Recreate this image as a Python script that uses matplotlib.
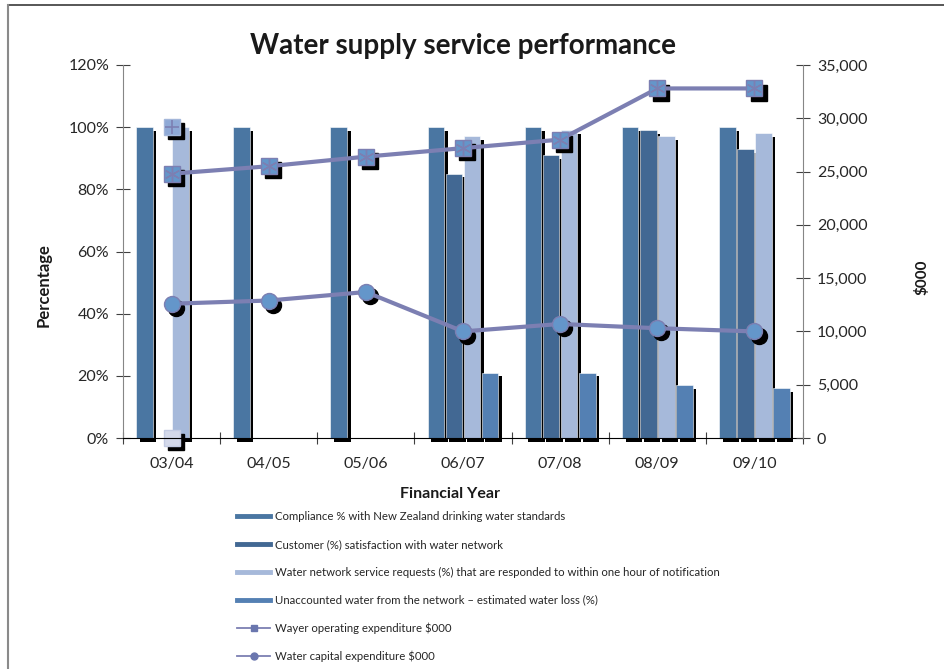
import numpy as np
import matplotlib
matplotlib.use("Agg")
import matplotlib.pyplot as plt
from matplotlib.lines import Line2D
from matplotlib.transforms import ScaledTranslation

plt.rcParams['font.family'] = ['Lato', 'DejaVu Sans']

# ---------------- data ----------------
years = ["03/04", "04/05", "05/06", "06/07", "07/08", "08/09", "09/10"]
compliance = [100, 100, 100, 100, 100, 100, 100]
customer = [np.nan, np.nan, np.nan, 85, 91, 99, 93]
service_requests = [100, np.nan, np.nan, 97, 99, 97, 98]
unaccounted = [np.nan, np.nan, np.nan, 21, 21, 17, 16]
operating_exp = [24800, 25500, 26400, 27200, 28000, 32800, 32800]
capital_exp = [12600, 12900, 13700, 10000, 10700, 10300, 10000]
stray_points = [100, 0]          # odd extra markers at 03/04 (percent axis)

bar_labels = ["Compliance % with New Zealand drinking water standards",
              "Customer (%) satisfaction with water network",
              "Water network service requests (%) that are responded to within one hour of notification",
              "Unaccounted water from the network \u2013 estimated water loss (%)"]
line_labels = ["Wayer operating expenditure $000", "Water capital expenditure $000"]

bar_colors = ["#4A76A2", "#426893", "#A6B9DA", "#5480B3"]
line_color = "#7C7FB2"
marker_fill = "#6496CA"

# ---------------- figure ----------------
fig = plt.figure(figsize=(9.44, 6.69), dpi=100)
ax = fig.add_axes([123/944, 1-438/669, (803-123)/944, (438-65)/669])
ax2 = ax.twinx()

x = np.arange(len(years))
bw = 0.17
step = 0.186
shadow = ScaledTranslation(2.6/72, -2.6/72, fig.dpi_scale_trans)
mshadow = ScaledTranslation(3/72, -3/72, fig.dpi_scale_trans)

series = [compliance, customer, service_requests, unaccounted]
for i, (vals, col) in enumerate(zip(series, bar_colors)):
    xi = x + (i - 1.5) * step
    ax.bar(xi, vals, width=bw, color="black", transform=ax.transData + shadow,
           zorder=1, clip_on=False)
    ax.bar(xi, vals, width=bw, color=col, edgecolor="white", linewidth=0.4,
           zorder=2, clip_on=False)

# stray markers
ax.plot([x[0]], [stray_points[0]], ls="none", marker="s", ms=11, color="black",
        transform=ax.transData + mshadow, zorder=3, clip_on=False)
ax.plot([x[0]], [stray_points[0]], ls="none", marker="s", ms=11, mfc="#8EA9D6",
        mec="#A4B7DA", zorder=4, clip_on=False)
ax.plot([x[0]], [stray_points[0]], ls="none", marker="+", ms=10, mew=1.2,
        color=line_color, zorder=5, clip_on=False)
ax.plot([x[0]], [stray_points[1]], ls="none", marker="s", ms=11, color="black",
        transform=ax.transData + mshadow, zorder=3, clip_on=False)
ax.plot([x[0]], [stray_points[1]], ls="none", marker="s", ms=11, mfc="#D4D9EA",
        mec="#C3CBE3", zorder=4, clip_on=False)

# lines on secondary axis
for vals, mk in [(operating_exp, "s"), (capital_exp, "o")]:
    ax2.plot(x, vals, ls="none", marker=mk, ms=11.5, color="black",
             transform=ax2.transData + mshadow, zorder=3, clip_on=False)
    ax2.plot(x, vals, color=line_color, lw=3, zorder=4, solid_capstyle="round")
    ax2.plot(x, vals, ls="none", marker=mk, ms=11.5, mfc=marker_fill,
             mec=line_color, mew=1, zorder=5, clip_on=False)
ax2.plot(x, operating_exp, ls="none", marker=(6, 2, 0), ms=11, mew=1,
         color=line_color, zorder=6, clip_on=False)

# ---------------- axes styling ----------------
ax.set_xlim(-0.5, 6.5)
ax.set_ylim(0, 120)
ax.set_yticks(np.arange(0, 121, 20))
ax.set_yticklabels([f"{v}%" for v in range(0, 121, 20)])
ax2.set_ylim(0, 35000)
ax2.set_yticks(np.arange(0, 35001, 5000))
ax2.set_yticklabels([f"{v:,}" for v in range(0, 35001, 5000)])

ax.set_xticks(np.arange(-0.5, 7, 1))
ax.set_xticklabels([])
ax.set_xticks(x, minor=True)
ax.set_xticklabels(years, minor=True)
ax.tick_params(axis="x", which="major", direction="inout", length=9, color="#404040")
ax.tick_params(axis="x", which="minor", length=0, pad=14, labelsize=11.5,
               labelcolor="#262626")
ax.tick_params(axis="y", direction="inout", length=10, color="#404040",
               labelsize=11.5, labelcolor="#262626", pad=5)
ax2.tick_params(axis="y", direction="inout", length=10, color="#404040",
                labelsize=11.5, labelcolor="#262626", pad=5)

for a in (ax, ax2):
    a.spines["top"].set_visible(False)
    a.patch.set_visible(False)
ax.spines["right"].set_visible(False)
ax2.spines["bottom"].set_visible(False)
ax2.spines["left"].set_visible(False)
ax.spines["left"].set_color("#868686")
ax2.spines["right"].set_color("#868686")
ax.spines["bottom"].set_color("black")
ax.spines["bottom"].set_zorder(10)

fig.text(463/944, 1-46/669, "Water supply service performance", ha="center",
         va="center", fontsize=20, fontweight="bold", color="#1A1A1A")
fig.text(44/944, 1-285/669, "Percentage", rotation=90, ha="center", va="center",
         fontsize=12, fontweight="bold", color="#1A1A1A")
fig.text(922/944, 1-277/669, "$000", rotation=90, ha="center", va="center",
         fontsize=11, fontweight="bold", color="#1A1A1A")
fig.text(450/944, 1-494/669, "Financial Year", ha="center", va="center",
         fontsize=11.5, fontweight="bold", color="#1A1A1A")

# border lines
fig.add_artist(Line2D([8/944, 1], [1-5/669, 1-5/669], color="#3A3A3A", lw=1.2))
fig.add_artist(Line2D([8/944, 8/944], [0, 1-5/669], color="#8A8A8A", lw=1.5))

# ---------------- legend ----------------
handles = [Line2D([], [], color=c, lw=3.5) for c in bar_colors]
handles.append(Line2D([], [], color=line_color, lw=1.3, marker="s", ms=4,
                      mfc="#6A76AE", mec="#6A76AE"))
handles.append(Line2D([], [], color=line_color, lw=1.3, marker="o", ms=5,
                      mfc="#6A76AE", mec="#6A76AE"))
leg = fig.legend(handles, bar_labels + line_labels, loc="upper left",
                 bbox_to_anchor=(237/944, 1-511/669), frameon=False, fontsize=8.2,
                 handlelength=2.9, handletextpad=0.45, labelspacing=1.48,
                 borderpad=0, borderaxespad=0)
for t in leg.get_texts():
    t.set_color("#262626")

fig.savefig("out.png", dpi=100)
